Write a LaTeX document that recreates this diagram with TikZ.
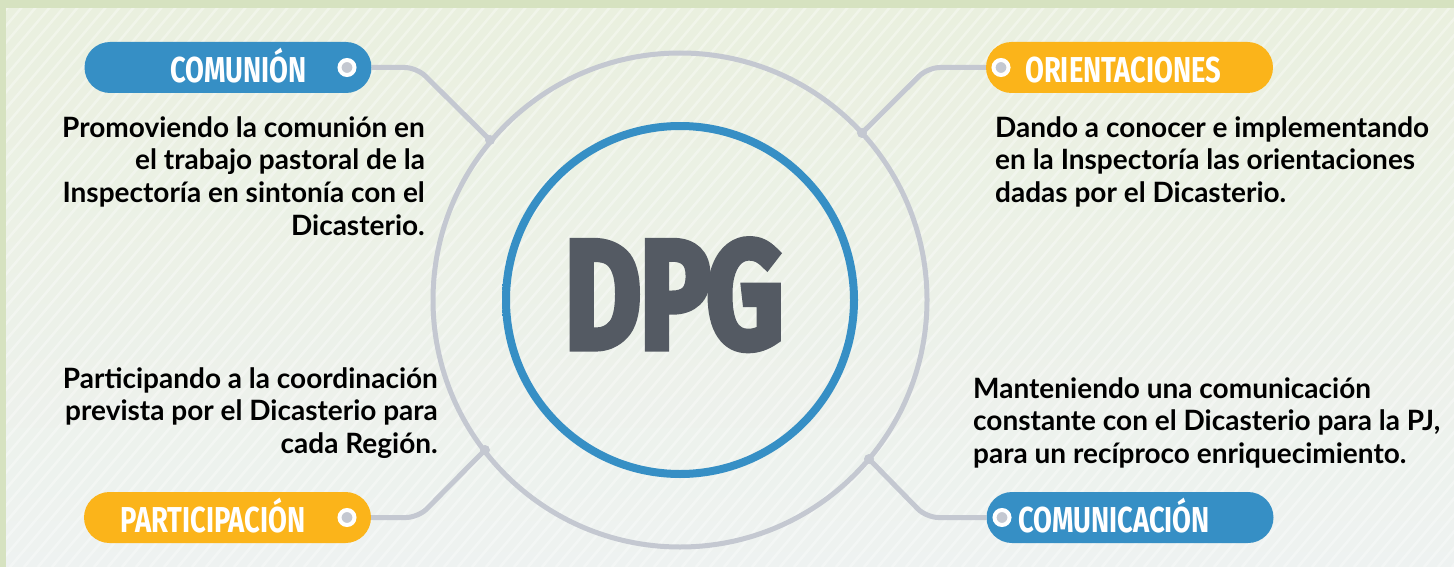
\documentclass[tikz,border=0pt]{standalone}
\usepackage{fontspec}
\setmainfont{Lato}
\newfontfamily\tagfont[FakeStretch=0.76]{Fira Sans}
\newfontfamily\dpgfont[FakeStretch=0.8,FakeBold=9]{Fira Sans}
\usepackage{xcolor}
\usetikzlibrary{positioning}

\definecolor{dpgblue}{HTML}{368FC5}
\definecolor{dpglight}{HTML}{82BFE0}
\definecolor{dpgyellow}{HTML}{FBB41A}
\definecolor{ringgray}{HTML}{C4C8D1}
\definecolor{dpgtext}{HTML}{545A63}
\definecolor{paneltop}{HTML}{EAF0DF}
\definecolor{panelbot}{HTML}{EEF2F1}
\definecolor{outerbg}{HTML}{D6E2C0}

\begin{document}
\begin{tikzpicture}[
    x=1pt, y=-1pt,
    pill/.style={draw=none, fill=#1, rounded corners=25.5pt, minimum width=287pt, minimum height=51pt, inner sep=0pt},
    tag/.style={font=\tagfont\bfseries\fontsize{36}{40}\selectfont, text=white, inner sep=0pt, anchor=base west},
    tagdot/.style={circle, fill=ringgray, draw=white, line width=4pt, minimum size=15pt, inner sep=0pt},
    descr/.style={font=\bfseries\fontsize{28}{32.7}\selectfont, inner sep=0pt, execute at begin node={\rule{0pt}{27pt}}},
    link/.style={draw=ringgray, line width=5pt, rounded corners=12pt},
    joint/.style={fill=ringgray}
  ]
    \useasboundingbox (0,0) rectangle (1454,567);

    % background and stripes
    \fill[outerbg] (0,0) rectangle (1454,567);
    \shade[top color=paneltop, bottom color=panelbot] (6,9) rectangle (1454,567);
    \begin{scope}
      \clip (6,9) rectangle (1454,567);
      \foreach \i in {-480,-466,...,1454} {
        \draw[white, opacity=0.35, line width=2.5pt] (\i,567) -- ++(480,-567);
      }
    \end{scope}

    \coordinate (ctr) at (680,300);
    \draw[ringgray, line width=5pt] (ctr) circle[radius=247];

    \coordinate (jcom) at (490,140);
    \coordinate (jori) at (862,133);
    \coordinate (jpar) at (485,450);
    \coordinate (jcmc) at (869,459);

    \node[pill=dpgblue] (pcom) at (228,67.5) {};
    \node[pill=dpgyellow] (pori) at (1129.5,67.5) {};
    \node[pill=dpgyellow] (ppar) at (227.5,517.5) {};
    \node[pill=dpgblue] (pcmc) at (1130,517.5) {};

    \draw[link] (pcom.east) -- ++(45,0) -- (jcom);
    \draw[link] (pori.west) -- ++(-58,0) -- (jori);
    \draw[link] (ppar.east) -- ++(47,0) -- (jpar);
    \draw[link] (pcmc.west) -- ++(-60,0) -- (jcmc);
    \foreach \j in {jcom,jori,jpar,jcmc}
      \fill[joint] (\j) circle[radius=5];

    \node[tagdot] (dcom) at (347,67.5) {};
    \node[tagdot] (dori) at (1001,67.5) {};
    \node[tagdot] (dpar) at (347,517.5) {};
    \node[tagdot] (dcmc) at (1002,517.5) {};

    \node[tag] (tcom) at (170,83) {COMUNIÓN};
    \node[tag] (tori) at (1025,83) {ORIENTACIONES};
    \node[tag] (tpar) at (120,532) {PARTICIPACIÓN};
    \node[tag] (tcmc) at (1018,532) {COMUNICACIÓN};

    % blue ring with soft gradient
    \path[even odd rule, top color=dpgblue, middle color=dpglight, bottom color=dpgblue]
      (ctr) circle[radius=178] (ctr) circle[radius=170];
    \node[font=\dpgfont\fontsize{146}{150}\selectfont, text=dpgtext, inner sep=0pt, anchor=base] (dpg) at (673,345) {DPG};

    \node[descr, align=right, anchor=north east] (xcom) at (425,116)
      {Promoviendo la comunión en\\el trabajo pastoral de la\\Inspectoría en sintonía con el\\Dicasterio.};
    \node[descr, align=left, anchor=north west] (xori) at (995,116)
      {Dando a conocer e implementando\\en la Inspectoría las orientaciones\\dadas por el Dicasterio.};
    \node[descr, align=right, anchor=north east] (xpar) at (438,367)
      {Participando a la coordinación\\prevista por el Dicasterio para\\cada Región.};
    \node[descr, align=left, anchor=north west] (xcmc) at (973,377)
      {Manteniendo una comunicación\\constante con el Dicasterio para la PJ,\\para un recíproco enriquecimiento.};
  \end{tikzpicture}
\end{document}
